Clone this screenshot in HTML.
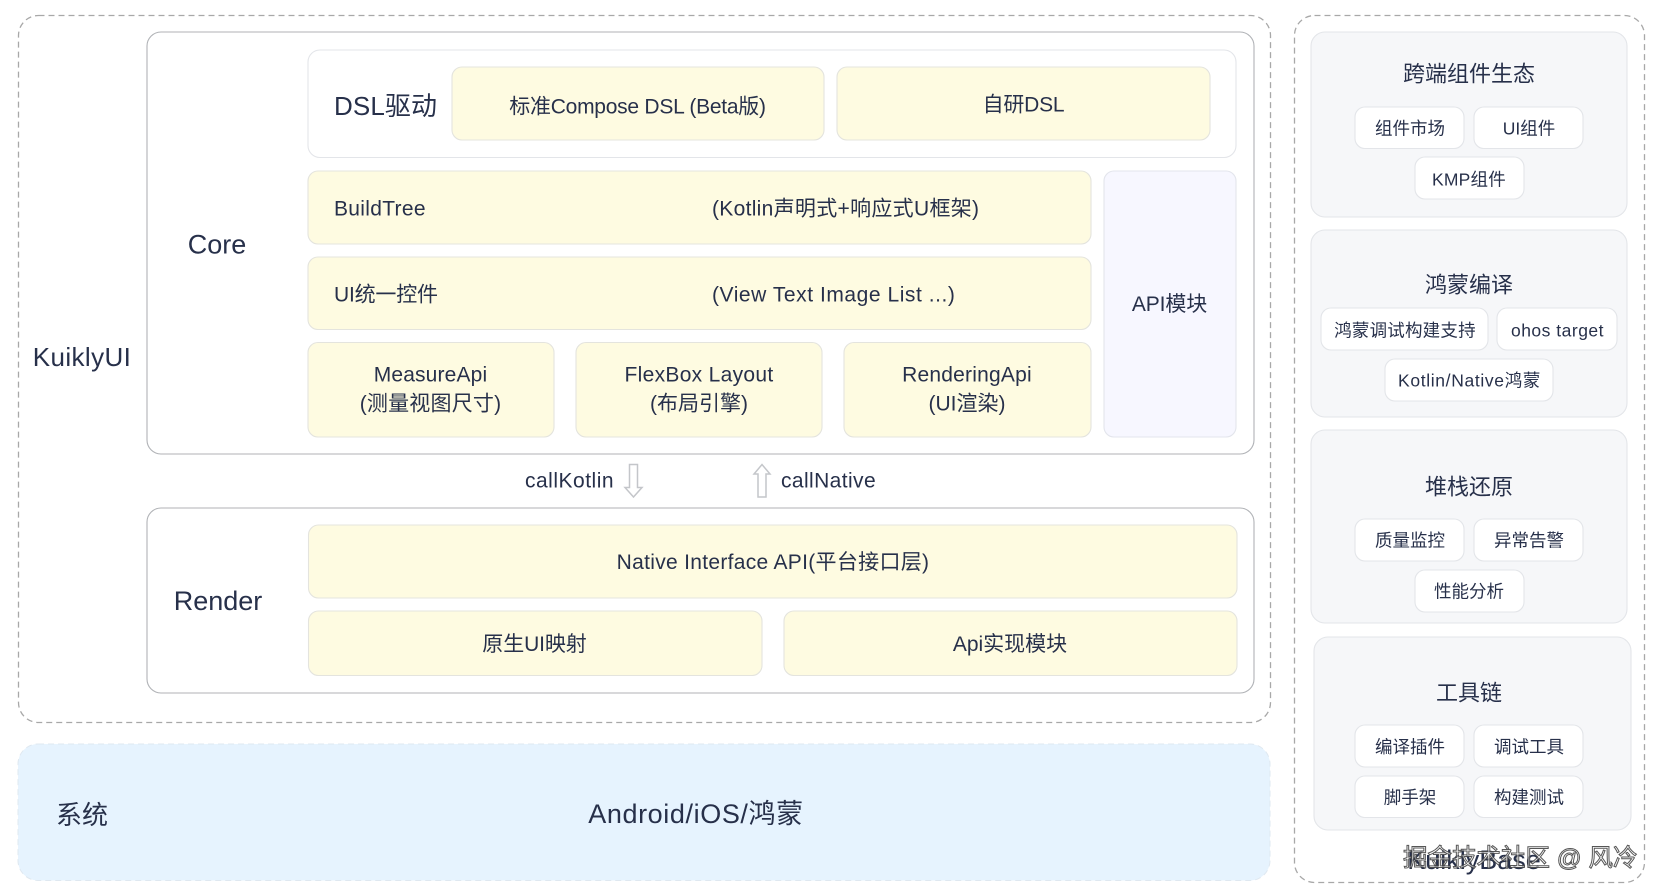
<!DOCTYPE html>
<html><head><meta charset="utf-8"><style>
html,body{margin:0;padding:0;background:#fff;width:1662px;height:896px;overflow:hidden}
svg{display:block;filter:blur(.35px)}
text{font-family:"Liberation Sans","Noto Sans CJK SC",sans-serif;fill:#27304a;dominant-baseline:central}
.m{text-anchor:middle}
.y{fill:#fefbe1;stroke:#e4e4de;stroke-width:1.1}
.w{fill:#fff;stroke:#e3e5e9;stroke-width:1.1}
.p{fill:#f6f7f9;stroke:#e3e5e9;stroke-width:1.1}
.b{fill:#fff;stroke:#b0b2b6;stroke-width:1.1}
.d{fill:#fff;stroke:#a8a8a8;stroke-width:1.3;stroke-dasharray:6 4}
.t20{font-size:21px}
.chip{font-size:17.500px}
.ttl{font-size:22px}
.a{fill:#fff;stroke:#c4c6ca;stroke-width:1.5}
</style></head><body>
<svg width="1662" height="896" viewBox="0 0 1662 896" xmlns="http://www.w3.org/2000/svg">
<rect class="d" x="18.500" y="15.500" width="1252" height="707" rx="20"/>
<rect class="d" x="1294.500" y="15.500" width="350" height="867" rx="20"/>
<rect x="18" y="744" width="1252" height="136.500" rx="20" fill="#e6f3fe" stroke="#dfe8f0" stroke-dasharray="6 4"/>
<rect class="b" x="147" y="32" width="1107" height="422" rx="14"/>
<rect class="b" x="147" y="508" width="1107" height="185" rx="14"/>
<rect class="w" x="308" y="50" width="928" height="107.500" rx="12"/>
<rect class="y" x="452" y="67" width="372" height="73" rx="10"/>
<rect class="y" x="837" y="67" width="373" height="73" rx="10"/>
<rect class="y" x="308" y="171" width="783" height="73" rx="10"/>
<rect class="y" x="308" y="257" width="783" height="72.500" rx="10"/>
<rect class="y" x="308" y="342.500" width="246" height="94.500" rx="10"/>
<rect class="y" x="576" y="342.500" width="246" height="94.500" rx="10"/>
<rect class="y" x="844" y="342.500" width="247" height="94.500" rx="10"/>
<rect x="1104" y="171" width="132" height="266" rx="10" fill="#f7f7ff" stroke="#e3e5ec" stroke-width="1.100"/>
<rect class="y" x="308.500" y="525" width="928.500" height="73" rx="10"/>
<rect class="y" x="308.500" y="611" width="453.500" height="64.500" rx="10"/>
<rect class="y" x="784" y="611" width="453" height="64.500" rx="10"/>
<path class="a" d="M629.500 464.500h8v23h4.500l-8.500 9.500l-8.500-9.500h4.500z"/>
<path class="a" d="M758 497v-23h-4l8-9.500l8 9.500h-4v23z"/>
<rect class="p" x="1311" y="32" width="316" height="185" rx="14"/>
<rect class="p" x="1311" y="230" width="316" height="187" rx="14"/>
<rect class="p" x="1311" y="430" width="316" height="193" rx="14"/>
<rect class="p" x="1314" y="637" width="317" height="193" rx="14"/>
<rect class="w" x="1355" y="107" width="109" height="41.500" rx="10"/>
<rect class="w" x="1474" y="107" width="109" height="41.500" rx="10"/>
<rect class="w" x="1415" y="157" width="109" height="42" rx="10"/>
<rect class="w" x="1321" y="308" width="167" height="42" rx="10"/>
<rect class="w" x="1497" y="308" width="120" height="42" rx="10"/>
<rect class="w" x="1385" y="359" width="168" height="42" rx="10"/>
<rect class="w" x="1355" y="519" width="109" height="42" rx="10"/>
<rect class="w" x="1474" y="519" width="109" height="42" rx="10"/>
<rect class="w" x="1415" y="570" width="109" height="42" rx="10"/>
<rect class="w" x="1355" y="725" width="109" height="42" rx="10"/>
<rect class="w" x="1474" y="725" width="109" height="42" rx="10"/>
<rect class="w" x="1355" y="776" width="109" height="41.500" rx="10"/>
<rect class="w" x="1474" y="776" width="109" height="41.500" rx="10"/>

<text class="m" x="82" y="357" font-size="26" letter-spacing=".4">KuiklyUI</text>
<text class="m" x="217" y="244.500" font-size="27">Core</text>
<text class="m" x="218" y="601" font-size="27">Render</text>
<text class="m" x="82" y="815" font-size="26">系统</text>
<text class="m" x="696" y="814" font-size="27" letter-spacing=".6">Android/iOS/鸿蒙</text>
<text x="334" y="106" font-size="26" letter-spacing=".1">DSL驱动</text>
<text class="m t20" x="637.500" y="107" letter-spacing="-.25">标准Compose DSL (Beta版)</text>
<text class="m t20" x="1023.500" y="105" letter-spacing="-.2">自研DSL</text>
<text class="t20" x="334" y="209" letter-spacing=".3">BuildTree</text>
<text class="t20" x="712" y="209" letter-spacing=".3">(Kotlin声明式+响应式U框架)</text>
<text class="t20" x="334" y="295" letter-spacing="-.2">UI统一控件</text>
<text class="t20" x="712" y="295" letter-spacing=".55">(View Text Image List ...)</text>
<text class="m t20" x="430.500" y="375" letter-spacing=".15">MeasureApi</text>
<text class="m t20" x="430.500" y="404" letter-spacing=".2">(测量视图尺寸)</text>
<text class="m t20" x="699" y="375" letter-spacing=".3">FlexBox Layout</text>
<text class="m t20" x="699" y="404">(布局引擎)</text>
<text class="m t20" x="967" y="375" letter-spacing=".2">RenderingApi</text>
<text class="m t20" x="967" y="404">(UI渲染)</text>
<text class="m t20" x="1169.500" y="304.500" letter-spacing="-.1">API模块</text>
<text class="t20" x="525" y="481" letter-spacing=".5">callKotlin</text>
<text class="t20" x="781" y="481" letter-spacing=".4">callNative</text>
<text class="m t20" x="773" y="562.500" letter-spacing=".3">Native Interface API(平台接口层)</text>
<text class="m t20" x="534.500" y="644.500" letter-spacing="-.1">原生UI映射</text>
<text class="m t20" x="1010" y="644.500">Api实现模块</text>

<text class="m ttl" x="1469" y="74">跨端组件生态</text>
<text class="m ttl" x="1469" y="285">鸿蒙编译</text>
<text class="m ttl" x="1469" y="487">堆栈还原</text>
<text class="m ttl" x="1469" y="693">工具链</text>
<text class="m chip" x="1410" y="128.500">组件市场</text>
<text class="m chip" x="1529" y="128.500">UI组件</text>
<text class="m chip" x="1469" y="179.500" letter-spacing=".2">KMP组件</text>
<text class="m chip" x="1405" y="330.500" letter-spacing=".2">鸿蒙调试构建支持</text>
<text class="m chip" x="1557.500" y="330.500" letter-spacing=".5">ohos target</text>
<text class="m chip" x="1469.500" y="380.500" letter-spacing=".65">Kotlin/Native鸿蒙</text>
<text class="m chip" x="1410" y="540.500">质量监控</text>
<text class="m chip" x="1529" y="540.500">异常告警</text>
<text class="m chip" x="1469" y="591.500">性能分析</text>
<text class="m chip" x="1410" y="747">编译插件</text>
<text class="m chip" x="1529" y="747">调试工具</text>
<text class="m chip" x="1410" y="797.500">脚手架</text>
<text class="m chip" x="1529" y="797.500">构建测试</text>

<text class="m" x="1474" y="860" font-size="27">KuiklyBase</text>
<text x="1403" y="858.500" font-size="24.500" style="fill:#fff;fill-opacity:.6;stroke:#444;stroke-width:1;stroke-opacity:.9">掘金技术社区 @ 风冷</text>
</svg>
</body></html>
